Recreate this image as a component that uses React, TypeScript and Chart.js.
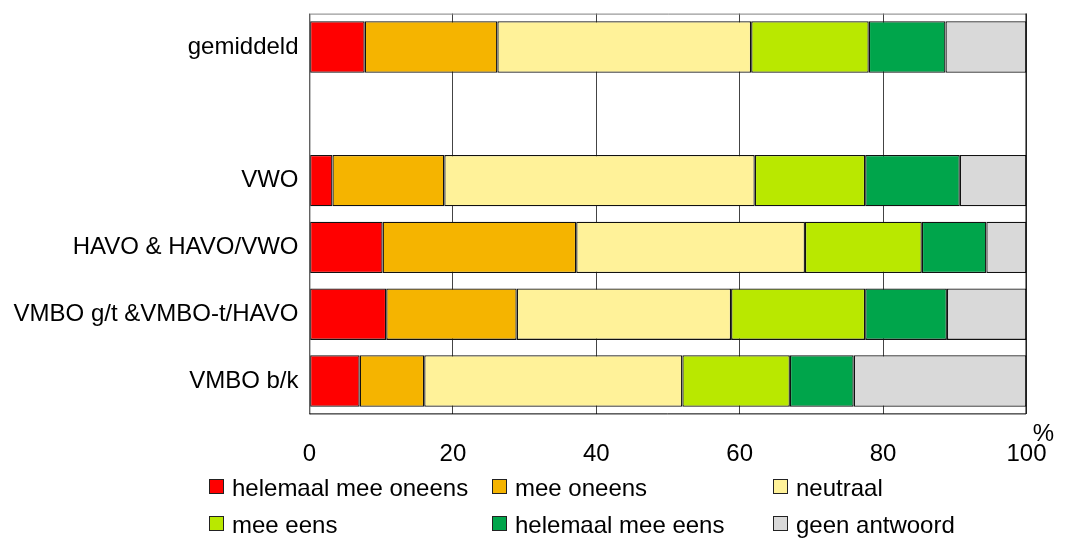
import React, { useEffect, useRef } from 'react';
import { Chart, registerables } from 'chart.js';

Chart.register(...registerables);

const categories = ['gemiddeld', '', 'VWO', 'HAVO & HAVO/VWO', 'VMBO g/t &VMBO-t/HAVO', 'VMBO b/k'];
const seriesNames = ['helemaal mee oneens', 'mee oneens', 'neutraal', 'mee eens', 'helemaal mee eens', 'geen antwoord'];
const helemaalMeeOneens = [7.7, null, 3.2, 10.2, 10.7, 7.0];
const meeOneens = [18.5, null, 15.6, 27.0, 18.2, 9.0];
const neutraal = [35.4, null, 43.3, 31.9, 29.9, 36.0];
const meeEens = [16.4, null, 15.4, 16.3, 18.7, 15.0];
const helemaalMeeEens = [10.7, null, 13.2, 9.0, 11.4, 8.9];
const geenAntwoord = [11.3, null, 9.3, 5.6, 11.1, 24.1];
const xTicks = [0, 20, 40, 60, 80, 100];
const unitLabel = '%';
const colors = ['#FF0000', '#F5B400', '#FFF299', '#B9E800', '#00A54B', '#D9D9D9'];

const FONT = "'Liberation Sans', Arial, sans-serif";

export default function App() {
  const ref = useRef<HTMLCanvasElement | null>(null);

  useEffect(() => {
    if (!ref.current) return;
    const seriesData = [helemaalMeeOneens, meeOneens, neutraal, meeEens, helemaalMeeEens, geenAntwoord];

    const framePlugin = {
      id: 'frameAndLegend',
      afterDraw(chart: any) {
        const { ctx, chartArea: a } = chart;
        ctx.save();
        ctx.lineWidth = 1;
        ctx.strokeStyle = '#808080';
        ctx.beginPath();
        ctx.moveTo(a.left + 0.5, a.bottom);
        ctx.lineTo(a.left + 0.5, a.top + 0.5);
        ctx.lineTo(a.right, a.top + 0.5);
        ctx.stroke();
        ctx.strokeStyle = '#000000';
        ctx.beginPath();
        ctx.moveTo(a.right - 0.5, a.top);
        ctx.lineTo(a.right - 0.5, a.bottom - 0.5);
        ctx.lineTo(a.left, a.bottom - 0.5);
        ctx.stroke();

        ctx.fillStyle = '#000';
        ctx.font = `24px ${FONT}`;
        ctx.textAlign = 'center';
        ctx.textBaseline = 'alphabetic';
        ctx.fillText(unitLabel, a.right + 17, 441);

        const colX = [209, 492, 773];
        const rowY = [479, 516];
        seriesNames.forEach((name, i) => {
          const cx = colX[i % 3];
          const cy = rowY[Math.floor(i / 3)];
          ctx.fillStyle = colors[i];
          ctx.fillRect(cx, cy, 15, 15);
          ctx.strokeStyle = '#222';
          ctx.strokeRect(cx + 0.5, cy + 0.5, 14, 14);
          ctx.fillStyle = '#000';
          ctx.textAlign = 'left';
          ctx.fillText(name, cx + 23, cy + 17);
        });
        ctx.restore();
      },
    };

    const chart = new Chart(ref.current, {
      type: 'bar',
      data: {
        labels: categories,
        datasets: seriesNames.map((name, i) => ({
          label: name,
          data: seriesData[i],
          backgroundColor: colors[i],
          borderColor: '#111',
          borderWidth: 1.3,
          borderSkipped: false,
          categoryPercentage: 1,
          barPercentage: 0.77,
        })),
      },
      options: {
        indexAxis: 'y',
        animation: false,
        responsive: false,
        layout: { padding: { top: 13.6, right: 42.5, left: 0, bottom: 0 } },
        plugins: {
          legend: { display: false },
          tooltip: { enabled: false },
        },
        scales: {
          x: {
            type: 'linear',
            stacked: true,
            min: 0,
            max: 100,
            afterBuildTicks(scale: any) {
              scale.ticks = xTicks.map((v) => ({ value: v }));
            },
            afterFit(scale: any) {
              scale.height = 123.6;
              scale.paddingLeft = 0;
              scale.paddingRight = 0;
              scale.paddingTop = 0;
              scale.paddingBottom = 0;
            },
            grid: { color: '#444', lineWidth: 1, drawTicks: false },
            border: { display: false },
            ticks: {
              color: '#000',
              font: { family: FONT, size: 24 },
              padding: 26,
              maxRotation: 0,
            },
          },
          y: {
            type: 'category',
            stacked: true,
            afterFit(scale: any) {
              scale.width = 309.5;
              scale.paddingLeft = 0;
              scale.paddingRight = 0;
              scale.paddingTop = 0;
              scale.paddingBottom = 0;
            },
            grid: { display: false, drawTicks: false },
            border: { display: false },
            ticks: {
              color: '#000',
              font: { family: FONT, size: 24 },
              padding: 11,
            },
          },
        },
      },
      plugins: [framePlugin],
    } as any);

    return () => chart.destroy();
  }, []);

  return (
    <div style={{ position: 'absolute', left: 0, top: 0, width: 1069, height: 538, background: '#fff' }}>
      <canvas ref={ref} width={1069} height={538} />
    </div>
  );
}
